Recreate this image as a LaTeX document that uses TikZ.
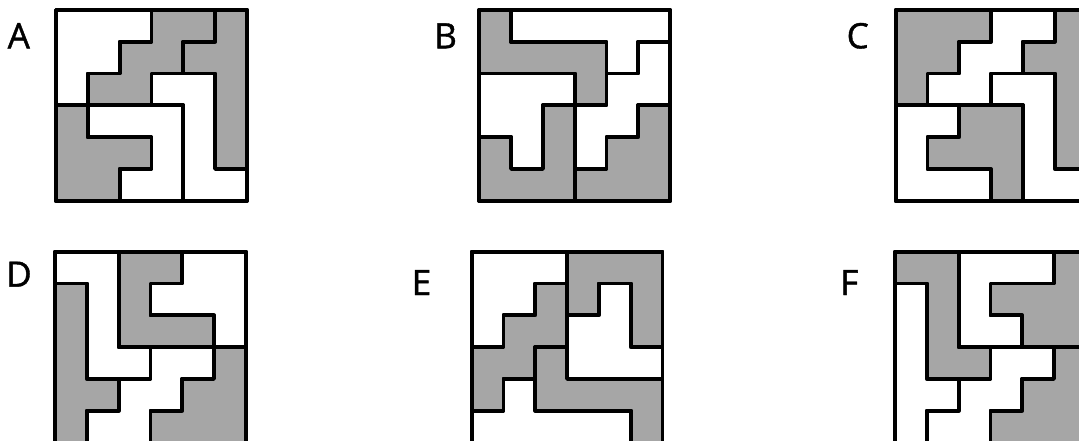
\documentclass[tikz,border=0pt]{standalone}
\usepackage{fontspec}
\newfontfamily\lblfont[FakeBold=1.2]{Open Sans}
\definecolor{pgray}{HTML}{A6A6A6}
\tikzset{
  gp/.style={fill=pgray, draw=black, line width=3.8pt, line join=round},
  wp/.style={fill=white, draw=black, line width=3.8pt, line join=round},
  frame/.style={draw=black, line width=3.8pt, line join=round},
  lbl/.style={font=\lblfont\fontsize{35}{40}\selectfont, anchor=base west, inner sep=0pt, text=black},
  grid/.style={x=31.8pt, y=-31.8pt}
}
\begin{document}
\begin{tikzpicture}[x=1pt, y=-1pt]
\useasboundingbox (0,0) rectangle (1079,441);
\clip (0,0) rectangle (1079,441);
\fill[white] (0,0) rectangle (1079,441);

% ---------- A ----------
\node[lbl] (labA) at (7.5,48.3) {A};
\begin{scope}[shift={(56pt,-10pt)}, grid]
\draw[wp] (0,0)--(3,0)--(3,1)--(2,1)--(2,2)--(1,2)--(1,3)--(0,3)--cycle;
\draw[gp] (3,0)--(5,0)--(5,1)--(4,1)--(4,2)--(3,2)--(3,3)--(1,3)--(1,2)--(2,2)--(2,1)--(3,1)--cycle;
\draw[gp] (5,0)--(6,0)--(6,5)--(5,5)--(5,2)--(4,2)--(4,1)--(5,1)--cycle;
\draw[wp] (3,2)--(5,2)--(5,5)--(6,5)--(6,6)--(4,6)--(4,3)--(3,3)--cycle;
\draw[gp] (0,3)--(1,3)--(1,4)--(3,4)--(3,5)--(2,5)--(2,6)--(0,6)--cycle;
\draw[wp] (1,3)--(4,3)--(4,6)--(2,6)--(2,5)--(3,5)--(3,4)--(1,4)--cycle;
\draw[frame] (0,0) rectangle (6,6);
\end{scope}

% ---------- B ----------
\node[lbl] (labB) at (434,48.3) {B};
\begin{scope}[shift={(479.3pt,-10pt)}, grid]
\draw[gp] (0,0)--(1,0)--(1,1)--(4,1)--(4,3)--(3,3)--(3,2)--(0,2)--cycle;
\draw[wp] (1,0)--(6,0)--(6,1)--(5,1)--(5,2)--(4,2)--(4,1)--(1,1)--cycle;
\draw[wp] (4,2)--(5,2)--(5,1)--(6,1)--(6,3)--(5,3)--(5,4)--(4,4)--(4,5)--(3,5)--(3,3)--(4,3)--cycle;
\draw[gp] (3,5)--(4,5)--(4,4)--(5,4)--(5,3)--(6,3)--(6,6)--(3,6)--cycle;
\draw[wp] (0,2)--(3,2)--(3,3)--(2,3)--(2,5)--(1,5)--(1,4)--(0,4)--cycle;
\draw[gp] (0,4)--(1,4)--(1,5)--(2,5)--(2,3)--(3,3)--(3,6)--(0,6)--cycle;
\draw[frame] (0,0) rectangle (6,6);
\end{scope}

% ---------- C ----------
\node[lbl] (labC) at (846.5,48.3) {C};
\begin{scope}[shift={(895.7pt,-10pt)}, grid]
\draw[gp] (0,0)--(3,0)--(3,1)--(2,1)--(2,2)--(1,2)--(1,3)--(0,3)--cycle;
\draw[wp] (3,0)--(5,0)--(5,1)--(4,1)--(4,2)--(3,2)--(3,3)--(1,3)--(1,2)--(2,2)--(2,1)--(3,1)--cycle;
\draw[gp] (5,0)--(6,0)--(6,5)--(5,5)--(5,2)--(4,2)--(4,1)--(5,1)--cycle;
\draw[wp] (3,2)--(5,2)--(5,5)--(6,5)--(6,6)--(4,6)--(4,3)--(3,3)--cycle;
\draw[wp] (0,3)--(2,3)--(2,4)--(1,4)--(1,5)--(3,5)--(3,6)--(0,6)--cycle;
\draw[gp] (2,3)--(4,3)--(4,6)--(3,6)--(3,5)--(1,5)--(1,4)--(2,4)--cycle;
\draw[frame] (0,0) rectangle (6,6);
\end{scope}

% ---------- D ----------
\node[lbl] (labD) at (6,286.7) {D};
\begin{scope}[shift={(55pt,-251.7pt)}, grid]
\draw[wp] (0,0)--(2,0)--(2,3)--(3,3)--(3,4)--(1,4)--(1,1)--(0,1)--cycle;
\draw[gp] (0,1)--(1,1)--(1,4)--(2,4)--(2,5)--(1,5)--(1,6)--(0,6)--cycle;
\draw[gp] (2,0)--(4,0)--(4,1)--(3,1)--(3,2)--(5,2)--(5,3)--(2,3)--cycle;
\draw[wp] (4,0)--(6,0)--(6,3)--(5,3)--(5,2)--(3,2)--(3,1)--(4,1)--cycle;
\draw[wp] (3,3)--(5,3)--(5,4)--(4,4)--(4,5)--(3,5)--(3,6)--(1,6)--(1,5)--(2,5)--(2,4)--(3,4)--cycle;
\draw[gp] (5,3)--(6,3)--(6,6)--(3,6)--(3,5)--(4,5)--(4,4)--(5,4)--cycle;
\draw[frame] (0,0) rectangle (6,6);
\end{scope}

% ---------- E ----------
\node[lbl] (labE) at (411.5,295) {E};
\begin{scope}[shift={(471.7pt,-251.7pt)}, grid]
\draw[wp] (0,0)--(3,0)--(3,1)--(2,1)--(2,2)--(1,2)--(1,3)--(0,3)--cycle;
\draw[gp] (2,1)--(3,1)--(3,3)--(2,3)--(2,4)--(1,4)--(1,5)--(0,5)--(0,3)--(1,3)--(1,2)--(2,2)--cycle;
\draw[gp] (3,0)--(6,0)--(6,3)--(5,3)--(5,1)--(4,1)--(4,2)--(3,2)--cycle;
\draw[wp] (3,2)--(4,2)--(4,1)--(5,1)--(5,3)--(6,3)--(6,4)--(3,4)--cycle;
\draw[gp] (2,3)--(3,3)--(3,4)--(6,4)--(6,6)--(5,6)--(5,5)--(2,5)--cycle;
\draw[wp] (0,5)--(1,5)--(1,4)--(2,4)--(2,5)--(5,5)--(5,6)--(0,6)--cycle;
\draw[frame] (0,0) rectangle (6,6);
\end{scope}

% ---------- F ----------
\node[lbl] (labF) at (840,295) {F};
\begin{scope}[shift={(895pt,-251.7pt)}, grid]
\draw[gp] (0,0)--(2,0)--(2,3)--(3,3)--(3,4)--(1,4)--(1,1)--(0,1)--cycle;
\draw[wp] (0,1)--(1,1)--(1,4)--(2,4)--(2,5)--(1,5)--(1,6)--(0,6)--cycle;
\draw[wp] (2,0)--(5,0)--(5,1)--(3,1)--(3,2)--(4,2)--(4,3)--(2,3)--cycle;
\draw[gp] (5,0)--(6,0)--(6,3)--(4,3)--(4,2)--(3,2)--(3,1)--(5,1)--cycle;
\draw[wp] (3,3)--(5,3)--(5,4)--(4,4)--(4,5)--(3,5)--(3,6)--(1,6)--(1,5)--(2,5)--(2,4)--(3,4)--cycle;
\draw[gp] (5,3)--(6,3)--(6,6)--(3,6)--(3,5)--(4,5)--(4,4)--(5,4)--cycle;
\draw[frame] (0,0) rectangle (6,6);
\end{scope}
\end{tikzpicture}
\end{document}
